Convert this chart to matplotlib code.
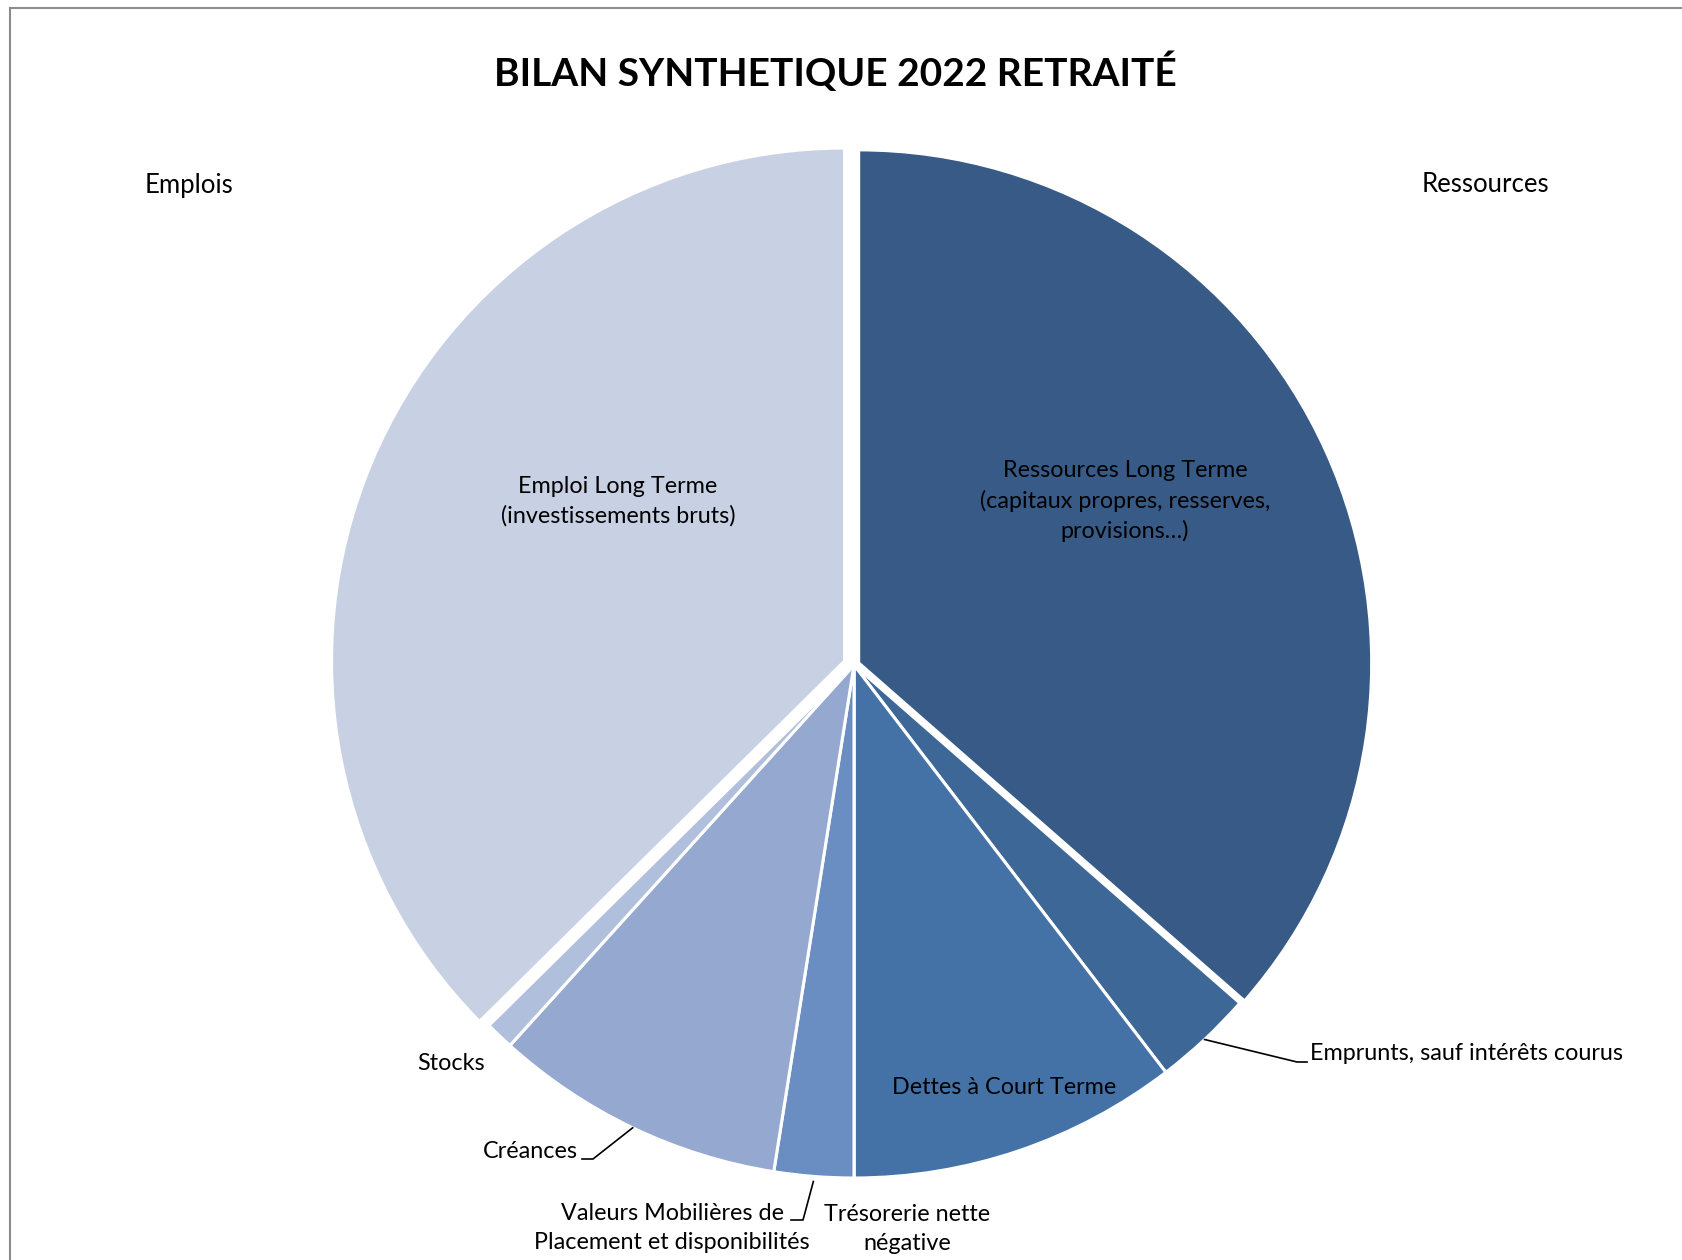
import matplotlib

matplotlib.use("Agg")
import matplotlib.pyplot as plt
import numpy as np
from matplotlib.lines import Line2D

W, H = 1683, 1260
CX, CY, R = 854, 665, 513  # pie centre / radius in image pixels
LIM = 1.1

plt.rcParams["font.family"] = ["Lato", "DejaVu Sans"]

labels = [
    "Ressources Long Terme\n(capitaux propres, resserves,\nprovisions…)",
    "Emprunts, sauf intérêts courus",
    "Dettes à Court Terme",
    "Trésorerie nette\nnégative",
    "Valeurs Mobilières de\nPlacement et disponibilités",
    "Créances",
    "Stocks",
    "Emploi Long Terme\n(investissements bruts)",
]
values = [72.9, 6.3, 20.8, 0.0, 5.0, 18.4, 1.8, 74.8]
colors = ["#375A87", "#3D6797", "#4472A7", "#4472A7", "#6A8EC2", "#95A9D0", "#B0C0DC", "#C8D1E4"]
explode = [0.01, 0, 0, 0, 0, 0, 0, 0.02]


def to_data(px, py):
    return (px - CX) / R, (CY - py) / R


fig = plt.figure(figsize=(W / 100, H / 100), dpi=100)
ax = fig.add_axes([(CX - LIM * R) / W, (H - CY - LIM * R) / H, 2 * LIM * R / W, 2 * LIM * R / H])
wedges, _ = ax.pie(
    values,
    colors=colors,
    explode=explode,
    startangle=90,
    counterclock=False,
    wedgeprops=dict(edgecolor="white", linewidth=2.2),
)
ax.set_xlim(-LIM, LIM)
ax.set_ylim(-LIM, LIM)
ax.set_aspect("equal")
ax.axis("off")

# frame of the chart area (cropped on the right / bottom)
fig.add_artist(Line2D([10 / W, 10 / W], [0, 1 - 8 / H], color="#8c8c8c", lw=1.5))
fig.add_artist(Line2D([10 / W, 1], [1 - 8 / H, 1 - 8 / H], color="#8c8c8c", lw=1.5))

fig.text(835 / W, 1 - 72 / H, "BILAN SYNTHETIQUE 2022 RETRAITÉ", ha="center", va="center",
         fontsize=28, fontweight="bold")
fig.text(189 / W, 1 - 185 / H, "Emplois", ha="center", va="center", fontsize=18.5)
fig.text(1485 / W, 1 - 185 / H, "Ressources", ha="center", va="center", fontsize=18.5)

fs = 16.8
ls = 1.48
# labels inside the slices
inside = {0: (1125, 501), 2: (1004, 1088), 7: (618, 501)}
for i, (px, py) in inside.items():
    x, y = to_data(px, py)
    ax.text(x, y, labels[i], ha="center", va="center", fontsize=fs, linespacing=ls, clip_on=False)

# zero-value slice label, no leader
x, y = to_data(907, 1229)
ax.text(x, y, labels[3], ha="center", va="center", fontsize=fs, linespacing=ls, clip_on=False)
x, y = to_data(451, 1064)
ax.text(x, y, labels[6], ha="center", va="center", fontsize=fs, clip_on=False)


def mid_point(w, rr):
    a = np.deg2rad((w.theta1 + w.theta2) / 2)
    cx, cy = w.center
    return cx + rr * w.r * np.cos(a), cy + rr * w.r * np.sin(a)


# labels with leader lines: (index, text anchor px, ha, corner px, tail end px, radius frac)
leaders = [
    (1, (1310, 1054), "left", (1297, 1062), (1307, 1062), 1.0),
    (5, (578, 1152), "right", (593, 1159), (582, 1159), 1.0),
    (4, (810, 1228), "right", (803, 1220), (791, 1220), 1.01),
]
for i, (tx, ty), ha, corner, tail, rr in leaders:
    x, y = to_data(tx, ty)
    ax.text(x, y, labels[i], ha=ha, va="center", fontsize=fs, linespacing=ls,
            multialignment="center", clip_on=False)
    sx, sy = mid_point(wedges[i], rr)
    c = to_data(*corner)
    t = to_data(*tail)
    ax.plot([sx, c[0], t[0]], [sy, c[1], t[1]], color="black", lw=1.2, clip_on=False)

fig.savefig("out.png", dpi=100)
